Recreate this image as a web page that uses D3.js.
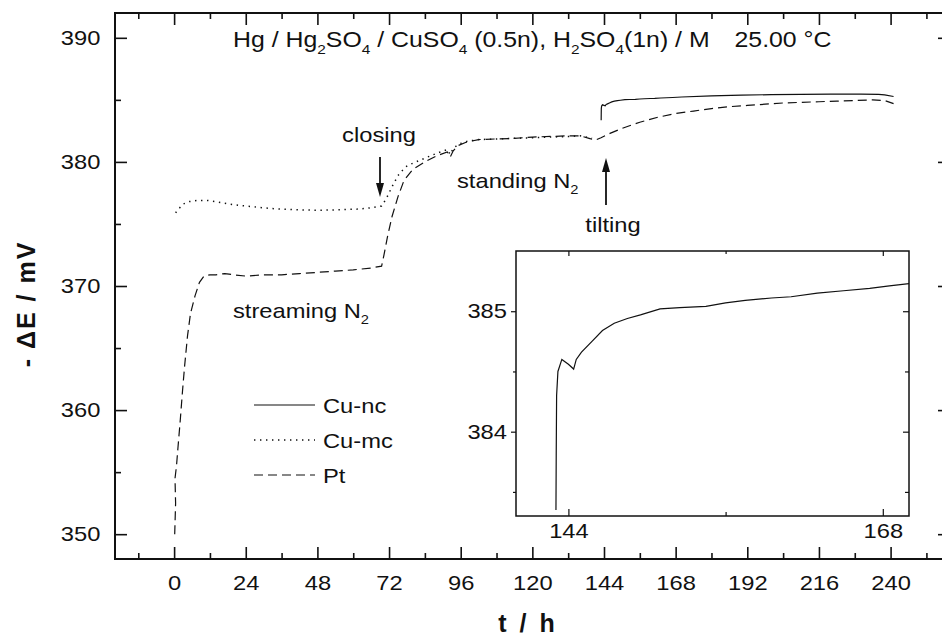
<!DOCTYPE html>
<html>
<head>
<meta charset="utf-8">
<script src="https://cdn.jsdelivr.net/npm/d3@7"></script>
<style>
  body { margin: 0; background: #fff; }
  text { font-family: "Liberation Sans", Arial, Helvetica, sans-serif; fill: #111; }
</style>
</head>
<body>
<div id="chart"></div>
<script>
var svgWidth = 942;
var svgHeight = 639;

// ---- data ----
var xTicks = [0, 24, 48, 72, 96, 120, 144, 168, 192, 216, 240];
var xMinorTicks = [-12, 12, 36, 60, 84, 108, 132, 156, 180, 204, 228, 252];
var yTicks = [350, 360, 370, 380, 390];
var yMinorTicks = [355, 365, 375, 385];
var insetXTicks = [144, 168];
var insetXMinorTicks = [156];
var insetYTicks = [384, 385];
var insetYMinorTicks = [383.5, 384.5];

var seriesNames = ["Cu-nc", "Cu-mc", "Pt"];

// Cu-nc (solid), starts after tilting
var cuNcTime = [143.05, 143.07, 143.1, 143.2, 143.5, 144.0, 144.4, 144.6, 145.0, 145.8, 146.6, 147.5,
  148.5, 149.5, 151, 152.5, 154.5, 156, 157.5, 159.5, 161, 163, 165, 167, 168.5, 170,
  180, 190, 200, 210, 220, 230, 236, 238, 241];
var cuNcMV = [383.35, 383.8, 384.3, 384.5, 384.6, 384.56, 384.52, 384.6, 384.66, 384.75, 384.84, 384.9,
  384.94, 384.97, 385.02, 385.03, 385.04, 385.07, 385.09, 385.11, 385.12, 385.15, 385.17, 385.19, 385.21, 385.23,
  385.32, 385.38, 385.42, 385.45, 385.46, 385.46, 385.45, 385.4, 385.27];

// Cu-mc (dotted)
var cuMcTime = [0.5, 1.5, 3, 5, 8, 11, 15, 20, 26, 32, 40, 48, 56, 62, 66, 69.5, 71, 73, 75, 77.5,
  80, 84, 88, 91.5, 92.5, 93.5, 95.5, 98, 102, 108, 114, 120, 126, 132, 136, 140];
var cuMcMV = [375.9, 376.2, 376.6, 376.8, 376.9, 376.9, 376.75, 376.55, 376.4, 376.25, 376.15, 376.1, 376.15,
  376.2, 376.3, 376.45, 377.0, 378.0, 378.9, 379.6, 379.9, 380.3, 380.7, 381.0, 380.6, 381.1, 381.45, 381.65,
  381.8, 381.85, 381.9, 381.95, 382.0, 382.05, 382.1, 381.9];

// Pt (dashed)
var ptTime = [0.2, 0.5, 0.3, 0.8, 1.3, 2, 2.8, 3.5, 4.5, 5.5, 7, 8.5, 10, 12, 14, 17, 20, 24, 30, 36, 42,
  48, 54, 60, 66, 69.5, 70.3, 71.5, 73, 75, 77, 80, 84, 88, 91.5, 92.5, 93.5, 95, 98, 102, 108, 114, 120,
  126, 132, 136, 139, 141, 143, 146, 150, 156, 162, 168, 174, 180, 186, 192, 198, 204, 210, 216, 222, 228,
  234, 238, 241];
var ptMV = [350.0, 352.5, 354.5, 355.5, 357, 359, 361.5, 363.5, 366, 367.8, 369.2, 370.3, 370.8, 370.9,
  370.9, 371.0, 370.9, 370.8, 370.9, 370.9, 371.0, 371.1, 371.2, 371.3, 371.45, 371.6, 372.5, 374.0, 375.6,
  377.2, 378.5, 379.4, 380.0, 380.5, 380.8, 380.4, 380.9, 381.3, 381.6, 381.8, 381.85, 381.9, 382.0, 382.05,
  382.1, 382.1, 381.9, 381.75, 381.95, 382.3, 382.7, 383.2, 383.6, 383.9, 384.1, 384.3, 384.45, 384.55,
  384.65, 384.75, 384.8, 384.85, 384.9, 384.95, 385.0, 384.95, 384.7];

function zip(ts, vs) {
  return ts.map(function(t, i) { return {t: t, v: vs[i]}; });
}
var cuNcData = zip(cuNcTime, cuNcMV);
var cuMcData = zip(cuMcTime, cuMcMV);
var ptData = zip(ptTime, ptMV);

var dashStyles = {"Cu-nc": null, "Cu-mc": "1.4,4.6", "Pt": "9,5"};

// the scanned figure's lettering is a bit wider than it is tall
var fontSize = 21;
var stretch = "scale(1.13, 1)";

// ---- main frame ----
var margin = {top: 13, left: 115};
var width = 950 - margin.left;
var height = 559 - margin.top;

var svg = d3.select("#chart")
  .append("svg")
  .attr("width", svgWidth)
  .attr("height", svgHeight);

var defs = svg.append("defs");
defs.append("clipPath").attr("id", "mainClip")
  .append("rect").attr("width", width).attr("height", height);

var chartGroup = svg.append("g")
  .attr("transform", `translate(${margin.left}, ${margin.top})`);

var xLinearScale = d3.scaleLinear()
  .domain([-19.8, 259.9])
  .range([0, width]);

var yLinearScale = d3.scaleLinear()
  .domain([348, 392])
  .range([height, 0]);

// major + minor ticks, all pointing inward
function addAxis(g, axis) {
  g.call(axis);
  g.select(".domain").remove();
  g.selectAll(".tick line").attr("stroke", "#111").attr("stroke-width", 1.6);
  g.selectAll(".tick text")
    .attr("font-size", fontSize)
    .attr("font-family", "Liberation Sans, Arial, sans-serif")
    .attr("fill", "#111")
    .attr("transform", stretch);
  return g;
}

addAxis(chartGroup.append("g").attr("transform", `translate(0, ${height})`),
  d3.axisBottom(xLinearScale).tickValues(xTicks).tickSize(-12).tickPadding(16).tickSizeOuter(0));
addAxis(chartGroup.append("g").attr("transform", `translate(0, ${height})`),
  d3.axisBottom(xLinearScale).tickValues(xMinorTicks).tickSize(-6).tickFormat("").tickSizeOuter(0));
addAxis(chartGroup.append("g"),
  d3.axisTop(xLinearScale).tickValues(xTicks).tickSize(-12).tickFormat("").tickSizeOuter(0));
addAxis(chartGroup.append("g"),
  d3.axisTop(xLinearScale).tickValues(xMinorTicks).tickSize(-6).tickFormat("").tickSizeOuter(0));

addAxis(chartGroup.append("g"),
  d3.axisLeft(yLinearScale).tickValues(yTicks).tickSize(-12).tickPadding(13).tickSizeOuter(0));
addAxis(chartGroup.append("g"),
  d3.axisLeft(yLinearScale).tickValues(yMinorTicks).tickSize(-6).tickFormat("").tickSizeOuter(0));
addAxis(chartGroup.append("g").attr("transform", `translate(${width}, 0)`),
  d3.axisRight(yLinearScale).tickValues(yTicks).tickSize(-12).tickFormat("").tickSizeOuter(0));
addAxis(chartGroup.append("g").attr("transform", `translate(${width}, 0)`),
  d3.axisRight(yLinearScale).tickValues(yMinorTicks).tickSize(-6).tickFormat("").tickSizeOuter(0));

chartGroup.append("rect")
  .attr("width", width)
  .attr("height", height)
  .attr("fill", "none")
  .attr("stroke", "#111")
  .attr("stroke-width", 2);

// ---- curves ----
var mainLine = d3.line()
  .x(d => xLinearScale(d.t))
  .y(d => yLinearScale(d.v));

var curves = chartGroup.append("g").attr("clip-path", "url(#mainClip)");

curves.append("path").datum(ptData)
  .attr("d", mainLine)
  .attr("fill", "none").attr("stroke", "#111").attr("stroke-width", 1.2)
  .attr("stroke-dasharray", dashStyles["Pt"]);

curves.append("path").datum(cuMcData)
  .attr("d", mainLine)
  .attr("fill", "none").attr("stroke", "#111").attr("stroke-width", 1.5)
  .attr("stroke-dasharray", dashStyles["Cu-mc"]);

curves.append("path").datum(cuNcData)
  .attr("d", mainLine)
  .attr("fill", "none").attr("stroke", "#111").attr("stroke-width", 1.2);

// ---- text helpers (subscripts) ----
function richText(parent, x, y, parts, size, anchor) {
  var t = parent.append("text")
    .attr("transform", `translate(${x}, ${y}) ${stretch}`)
    .attr("font-size", size)
    .attr("text-anchor", anchor || "start");
  var shift = size * 0.3;
  var pending = 0;
  parts.forEach(function(p) {
    if (typeof p === "string") {
      t.append("tspan").attr("dy", pending).text(p);
      pending = 0;
    } else if (p.sub) {
      t.append("tspan").attr("dy", shift).attr("font-size", size * 0.62).text(p.sub);
      pending = -shift;
    } else if (p.gap) {
      t.append("tspan").attr("dx", p.gap).attr("dy", pending).text(p.text);
      pending = 0;
    }
  });
  return t;
}

richText(svg, 233, 47, ["Hg / Hg", {sub: "2"}, "SO", {sub: "4"}, " / CuSO", {sub: "4"},
  " (0.5n), H", {sub: "2"}, "SO", {sub: "4"}, "(1n) / M", {gap: 22, text: "25.00 \u00b0C"}], 22);

// annotations
richText(svg, 379, 142, ["closing"], fontSize, "middle");
richText(svg, 457, 188, ["standing N", {sub: "2"}], fontSize);
richText(svg, 613, 232, ["tilting"], fontSize, "middle");
richText(svg, 233, 318, ["streaming N", {sub: "2"}], fontSize);

// arrows
function arrow(x, yFrom, yTo) {
  var dir = yTo > yFrom ? 1 : -1;
  svg.append("line")
    .attr("x1", x).attr("x2", x)
    .attr("y1", yFrom).attr("y2", yTo - dir * 12)
    .attr("stroke", "#111").attr("stroke-width", 1.8);
  svg.append("path")
    .attr("d", `M${x},${yTo} L${x - 4},${yTo - dir * 14} L${x + 4},${yTo - dir * 14} Z`)
    .attr("fill", "#111");
}
arrow(380, 157, 197);
arrow(606, 205, 158);

// ---- legend ----
var legendY = [405, 440, 475];
seriesNames.forEach(function(name, i) {
  svg.append("line")
    .attr("x1", 254).attr("x2", 315)
    .attr("y1", legendY[i]).attr("y2", legendY[i])
    .attr("stroke", "#111")
    .attr("stroke-width", name === "Cu-mc" ? 1.5 : 1.2)
    .attr("stroke-dasharray", dashStyles[name]);
  richText(svg, 323, legendY[i] + fontSize * 0.36, [name], fontSize);
});

// ---- axis titles ----
svg.append("text")
  .attr("transform", "translate(35, 304) rotate(-90)")
  .attr("text-anchor", "middle")
  .attr("font-size", 25)
  .attr("font-weight", "bold")
  .attr("letter-spacing", 2)
  .text("- \u0394E / mV");

svg.append("text")
  .attr("x", 528).attr("y", 632)
  .attr("text-anchor", "middle")
  .attr("font-size", 25)
  .attr("font-weight", "bold")
  .attr("letter-spacing", 3)
  .text("t / h");

// ---- inset ----
var inset = {left: 516, right: 909, top: 251, bottom: 516};

defs.append("clipPath").attr("id", "insetClip")
  .append("rect")
  .attr("x", inset.left).attr("y", inset.top)
  .attr("width", inset.right - inset.left).attr("height", inset.bottom - inset.top);

var insetX = d3.scaleLinear().domain([140, 170]).range([inset.left, inset.right]);
var insetY = d3.scaleLinear().domain([383.3, 385.5]).range([inset.bottom, inset.top]);

var insetGroup = svg.append("g");
insetGroup.append("rect")
  .attr("x", inset.left).attr("y", inset.top)
  .attr("width", inset.right - inset.left).attr("height", inset.bottom - inset.top)
  .attr("fill", "#fff");

addAxis(insetGroup.append("g").attr("transform", `translate(0, ${inset.bottom})`),
  d3.axisBottom(insetX).tickValues(insetXTicks).tickSize(-7).tickPadding(7).tickSizeOuter(0));
addAxis(insetGroup.append("g").attr("transform", `translate(0, ${inset.bottom})`),
  d3.axisBottom(insetX).tickValues(insetXMinorTicks).tickSize(-4).tickFormat("").tickSizeOuter(0));
addAxis(insetGroup.append("g").attr("transform", `translate(0, ${inset.top})`),
  d3.axisTop(insetX).tickValues(insetXTicks).tickSize(-5).tickFormat("").tickSizeOuter(0));
addAxis(insetGroup.append("g").attr("transform", `translate(0, ${inset.top})`),
  d3.axisTop(insetX).tickValues(insetXMinorTicks).tickSize(-3).tickFormat("").tickSizeOuter(0));
addAxis(insetGroup.append("g").attr("transform", `translate(${inset.left}, 0)`),
  d3.axisLeft(insetY).tickValues(insetYTicks).tickFormat(d3.format("d")).tickSize(5).tickPadding(3).tickSizeOuter(0));
addAxis(insetGroup.append("g").attr("transform", `translate(${inset.left}, 0)`),
  d3.axisLeft(insetY).tickValues(insetYMinorTicks).tickSize(3).tickFormat("").tickSizeOuter(0));
addAxis(insetGroup.append("g").attr("transform", `translate(${inset.right}, 0)`),
  d3.axisRight(insetY).tickValues(insetYTicks).tickSize(-6).tickFormat("").tickSizeOuter(0));
addAxis(insetGroup.append("g").attr("transform", `translate(${inset.right}, 0)`),
  d3.axisRight(insetY).tickValues(insetYMinorTicks).tickSize(-4).tickFormat("").tickSizeOuter(0));
insetGroup.selectAll(".tick line").attr("stroke-width", 1.2);

insetGroup.append("path").datum(cuNcData)
  .attr("clip-path", "url(#insetClip)")
  .attr("d", d3.line().x(d => insetX(d.t)).y(d => insetY(d.v)))
  .attr("fill", "none").attr("stroke", "#111").attr("stroke-width", 1.2);

insetGroup.append("rect")
  .attr("x", inset.left).attr("y", inset.top)
  .attr("width", inset.right - inset.left).attr("height", inset.bottom - inset.top)
  .attr("fill", "none").attr("stroke", "#111").attr("stroke-width", 1.5);
</script>
</body>
</html>
